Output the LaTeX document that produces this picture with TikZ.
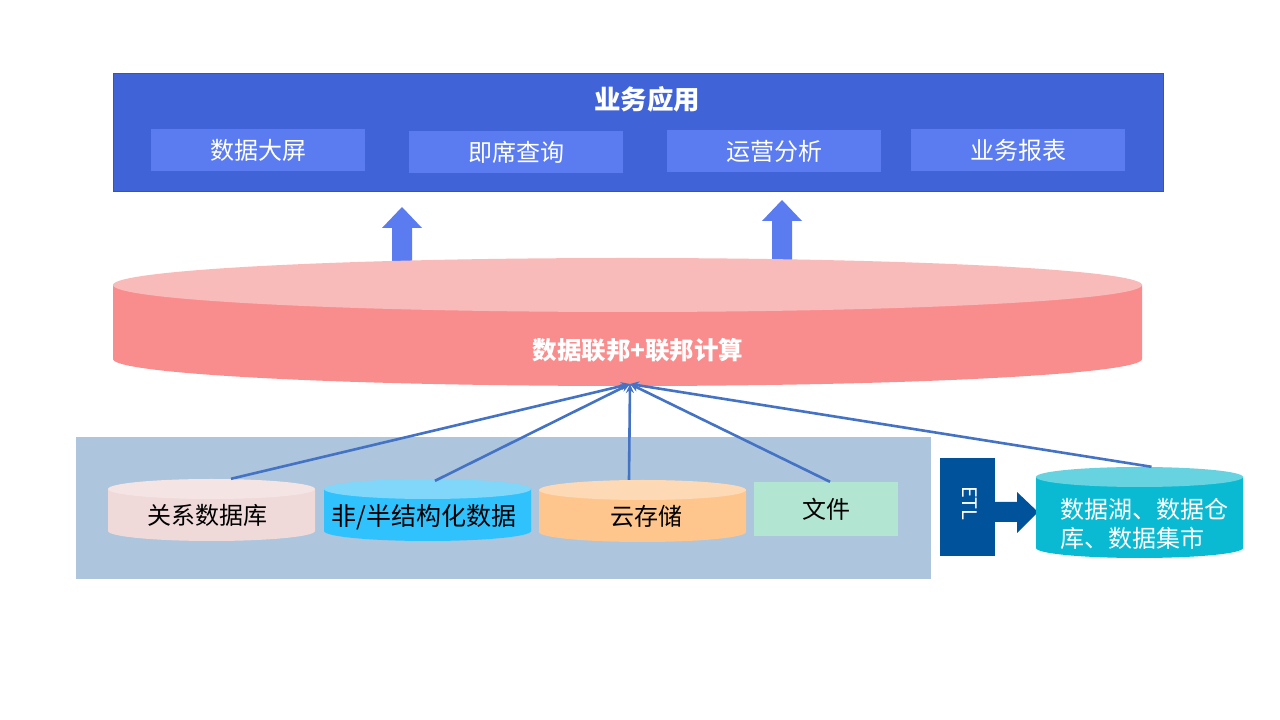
\documentclass[tikz,border=0pt]{standalone}
\usepackage{fontspec}
\setmainfont{Noto Sans CJK SC}
\usetikzlibrary{arrows.meta,calc}
\definecolor{topblue}{HTML}{4163D8}
\definecolor{topborder}{HTML}{3553BE}
\definecolor{subblue}{HTML}{5B7CF1}
\definecolor{fedside}{HTML}{F98D8D}
\definecolor{fedtop}{HTML}{F9BABA}
\definecolor{panel}{HTML}{ADC5DD}
\definecolor{conn}{HTML}{4472C4}
\definecolor{relside}{HTML}{F0D9D9}
\definecolor{reltop}{HTML}{F5E4E4}
\definecolor{semiside}{HTML}{2FC2FC}
\definecolor{semitop}{HTML}{80D7FA}
\definecolor{cloudside}{HTML}{FEC68D}
\definecolor{cloudtop}{HTML}{FED9B5}
\definecolor{filefill}{HTML}{B2E5D2}
\definecolor{etlblue}{HTML}{00529B}
\definecolor{lakeside}{HTML}{0ABAD2}
\definecolor{laketop}{HTML}{67D3E0}
\tikzset{
  subbox/.style={fill=subblue, text=white, minimum width=214pt, minimum height=42pt, inner sep=0pt, font=\fontsize{24}{28}\selectfont},
  dbnode/.style={text=black, inner sep=0pt, minimum width=207pt, minimum height=72pt, font=\fontsize{24}{28}\selectfont},
  conline/.style={draw=conn, line width=2.6pt, -{Stealth[length=9pt,width=8pt]}},
  uparrow/.style={fill=subblue},
}
\begin{document}
\begin{tikzpicture}[x=1pt,y=1pt]
\useasboundingbox (0,0) rectangle (1280,720);
\fill[white] (0,0) rectangle (1280,720);

% ---------- top: business applications ----------
\node[draw=topborder, line width=1pt, fill=topblue, minimum width=1050pt, minimum height=118pt, inner sep=0pt] (app) at (638,587) {};
\node[text=white, font=\fontsize{26.5}{31}\selectfont\bfseries] (apptitle) at (647,621) {业务应用};
\node[subbox] (s1) at (258,570) {数据大屏};
\node[subbox] (s2) at (516,568) {即席查询};
\node[subbox] (s3) at (774,569) {运营分析};
\node[subbox] (s4) at (1018,570) {业务报表};

% ---------- up block arrows ----------
\fill[uparrow] (392,440) -- (392,492) -- (382,492) -- (402,513) -- (422,492) -- (412,492) -- (412,440) -- cycle;
\fill[uparrow] (772,440) -- (772,499) -- (762,499) -- (782,520) -- (802,499) -- (792,499) -- (792,440) -- cycle;

% ---------- federation cylinder ----------
\fill[fedside] (113,435) -- (113,361) arc[start angle=180,end angle=360,x radius=514.5,y radius=27] -- (1142,435) -- cycle;
\fill[fedtop] (627.5,435) ellipse [x radius=514.5,y radius=27];
\node[text=white, font=\fontsize{24.5}{29}\selectfont\bfseries] (fed) at (638,370) {数据联邦+联邦计算};
\coordinate (hub) at (630,336);

% ---------- source panel ----------
\fill[panel] (76,141) rectangle (931,283);

% relational db
\fill[relside] (108,231) -- (108,189) arc[start angle=180,end angle=360,x radius=103.5,y radius=10] -- (315,231) -- cycle;
\fill[reltop] (211.5,231) ellipse [x radius=103.5,y radius=10];
\node[dbnode] (rel) at (207,205) {关系数据库};

% semi-structured
\fill[semiside] (324,231) -- (324,189) arc[start angle=180,end angle=360,x radius=103.5,y radius=10] -- (531,231) -- cycle;
\fill[semitop] (427.5,231) ellipse [x radius=103.5,y radius=10];
\node[dbnode, font=\fontsize{25}{29}\selectfont] (semi) at (424,203) {非/半结构化数据};

% cloud storage
\fill[cloudside] (539,230) -- (539,188) arc[start angle=180,end angle=360,x radius=103.5,y radius=10] -- (746,230) -- cycle;
\fill[cloudtop] (642.5,230) ellipse [x radius=103.5,y radius=10];
\node[dbnode] (cloud) at (646,204) {云存储};

% file
\node[fill=filefill, text=black, inner sep=0pt, minimum width=144pt, minimum height=54pt, font=\fontsize{24}{28}\selectfont] (file) at (826,211) {文件};

% ---------- ETL and data lake ----------
\node[fill=etlblue, minimum width=55pt, minimum height=98pt, inner sep=0pt] (etl) at (967.5,213) {};
\node[text=white, rotate=-90, inner sep=0pt, font=\fontsize{20}{24}\selectfont] (etltext) at (970,216.5) {ETL};
\fill[etlblue] (995,218) -- (1017,218) -- (1017,228) -- (1038,208) -- (1017,187) -- (1017,198) -- (995,198) -- cycle;

\fill[lakeside] (1036,243) -- (1036,172) arc[start angle=180,end angle=360,x radius=103.5,y radius=10] -- (1243,243) -- cycle;
\fill[laketop] (1139.5,243) ellipse [x radius=103.5,y radius=10];
\node[minimum width=207pt, minimum height=91pt, inner sep=0pt] (lake) at (1139.5,207.5) {};
\node[text=white, align=left, inner sep=0pt, font=\fontsize{24}{29}\selectfont] (laketext) at (1144,196.5) {数据湖、数据仓\\库、数据集市};

% ---------- connectors ----------
\draw[conline] ([xshift=24pt]rel.north) -- (hub);
\draw[conline] ([xshift=11pt]semi.north) -- (hub);
\draw[conline] ([xshift=-17pt]cloud.north) -- (hub);
\draw[conline] ([xshift=4pt]file.north) -- (hub);
\draw[conline] ([xshift=12pt]lake.north) -- (hub);
\end{tikzpicture}
\end{document}
